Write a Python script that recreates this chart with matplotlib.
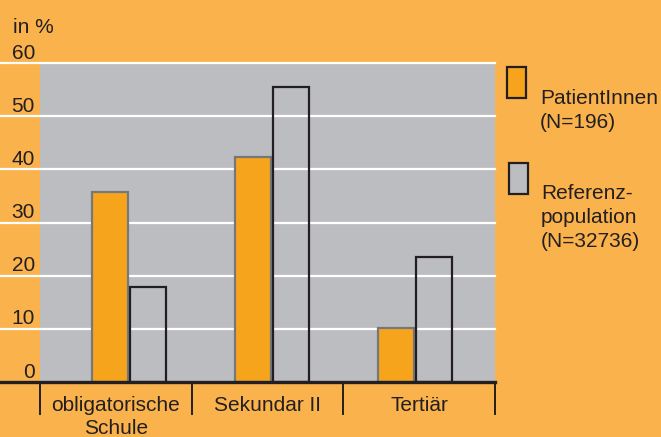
import numpy as np
import matplotlib
matplotlib.use("Agg")
import matplotlib.pyplot as plt
from matplotlib.patches import Rectangle

plt.rcParams['font.family'] = ['Liberation Sans', 'DejaVu Sans']

categories = ['obligatorische\nSchule', 'Sekundar II', 'Tertiär']
patienten = [35.7, 42.4, 10.1]
referenz = [17.8, 55.5, 23.6]
yticks = [0, 10, 20, 30, 40, 50, 60]
legend_labels = ['PatientInnen\n(N=196)', 'Referenz-\npopulation\n(N=32736)']

bg = '#FAB24C'
orange = '#F7A41D'
grey = '#BCBDC1'
dark = '#231F20'
W, H = 661, 437


def put_lines(x, y_px, text, step, **kw):
    # one text per line so every baseline lands where it should
    for k, line in enumerate(text.split('\n')):
        fig.text(x, 1 - (y_px + k * step) / H, line, va='baseline', fontsize=15,
                 color=dark, **kw)


fig = plt.figure(figsize=(W / 100, H / 100), dpi=100, facecolor=bg)

# axes spans from the left edge; grey plot area starts a bit further in
ax = fig.add_axes([0, (H - 382) / H, 495 / W, (382 - 63) / H])
ax.set_facecolor('none')
x0 = -40 / (455 / 3)
ax.set_xlim(x0, 3)
ax.set_ylim(0, 60)
ax.axvspan(0, 3, color=grey, zorder=0, lw=0)
for v in yticks[1:]:
    ax.axhline(v, color='white', lw=1.6, zorder=1, clip_on=False)
ax.axhline(0, color=dark, lw=2.4, zorder=4, clip_on=False)

centers = 0.587 + 0.9425 * np.arange(len(categories))
bw = 0.242
ax.bar(centers - bw / 2 - 0.004, patienten, bw, color=orange, edgecolor='#76777A',
       lw=1.6, zorder=2)
ax.bar(centers + bw / 2 + 0.004, referenz, bw, facecolor='none', edgecolor=dark,
       lw=1.6, zorder=3)

for s in ax.spines.values():
    s.set_visible(False)
ax.set_xticks([])
ax.set_yticks([])

# y labels sit just above their grid lines
for v in yticks:
    ypx = 382 - v * (382 - 63) / 60
    fig.text(35 / W, 1 - (ypx - 4.5) / H, str(v), ha='right', va='baseline',
             fontsize=15, color=dark)
fig.text(13 / W, 1 - 33 / H, 'in %', ha='left', va='baseline', fontsize=15, color=dark)

# category dividers and labels below the baseline
for xd in [0, 1, 2, 3]:
    ax.plot([xd, xd], [0, -6], color=dark, lw=1.4, clip_on=False, zorder=4)
for i, lab in enumerate(categories):
    put_lines((40 + (i + 0.5) * 455 / 3) / W, 411, lab, 22.5, ha='center')

# legend
fig.patches.append(Rectangle((507 / W, 1 - 98 / H), 19 / W, 31 / H, transform=fig.transFigure,
                             facecolor=orange, edgecolor=dark, lw=1.6))
fig.patches.append(Rectangle((509 / W, 1 - 194 / H), 19 / W, 31 / H, transform=fig.transFigure,
                             facecolor=grey, edgecolor=dark, lw=1.6))
put_lines(540 / W, 104, legend_labels[0], 24.3, ha='left')
put_lines(541 / W, 199.3, legend_labels[1], 23.7, ha='left')

fig.savefig('out.png', dpi=100, facecolor=bg)
